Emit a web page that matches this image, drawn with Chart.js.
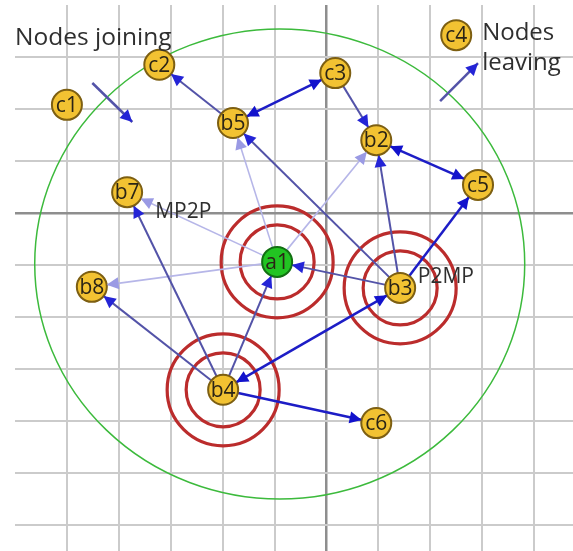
<!DOCTYPE html>
<html>
<head>
<meta charset="utf-8">
<script src="https://cdn.jsdelivr.net/npm/chart.js@4/dist/chart.umd.min.js"></script>
<style>
  html, body { margin: 0; padding: 0; background: #fff; }
  #wrap { width: 573px; height: 551px; position: relative; }
</style>
</head>
<body>
<div id="wrap"><canvas id="canvas"></canvas></div>
<script>
// nodes (grid units, origin at the dark axis cross)
const nodeNames = ['c1', 'c2', 'c3', 'c4', 'b5', 'b2', 'c5', 'b7', 'b8', 'a1', 'b3', 'b4', 'c6'];
const nodeX = [-5.0, -3.22, 0.17, 2.50, -1.80, 0.96, 2.92, -3.84, -4.52, -0.95, 1.42, -1.99, 0.96];
const nodeY = [2.08, 2.85, 2.69, 3.42, 1.73, 1.40, 0.54, 0.40, -1.42, -0.94, -1.44, -3.40, -4.04];

// links between nodes
const linkFrom = ['b5', 'c3', 'c3', 'b2', 'b3', 'b3', 'b3', 'b3', 'b4', 'b4', 'b4', 'b4', 'b4', 'a1', 'a1', 'a1', 'a1'];
const linkTo   = ['c2', 'b5', 'b2', 'c5', 'b5', 'b2', 'c5', 'a1', 'b3', 'a1', 'b7', 'b8', 'c6', 'b7', 'b8', 'b5', 'b2'];
const linkKind = ['mid', 'dark', 'mid', 'dark', 'mid', 'mid', 'dark', 'mid', 'dark', 'mid', 'mid', 'mid', 'dark', 'light', 'light', 'light', 'light'];
const linkBoth = [false, true, false, true, false, false, false, false, true, false, false, false, false, false, false, false, false];

// joining / leaving arrows
const freeStartX = [-4.51, 2.19];
const freeStartY = [2.50, 2.15];
const freeEndX = [-3.74, 2.92];
const freeEndY = [1.75, 2.88];

// nodes with red rings
const ringNodes = ['a1', 'b3', 'b4'];

// green coverage circle
const areaCenter = [-0.90, -0.98];
const areaRadius = [4.72, 4.52];

// text labels
const noteText = ['Nodes joining', 'MP2P', 'P2MP', 'Nodes', 'leaving'];
const noteX = [-6.0, -3.30, 1.76, 3.0, 3.0];
const noteY = [3.37, 0.02, -1.23, 3.46, 2.88];
const noteSize = [24.5, 21, 21, 24, 24];

const colors = {
  mid: { line: '#5353a8', head: '#2424d6', width: 2 },
  dark: { line: '#1d1dc6', head: '#1212cc', width: 2.5 },
  light: { line: '#b6b6e8', head: '#9a9ae4', width: 1.6 }
};

const idx = n => nodeNames.indexOf(n);
const pt = n => ({ x: nodeX[idx(n)], y: nodeY[idx(n)] });

const linkSets = linkFrom.map((f, i) => ({
  data: [pt(f), pt(linkTo[i])],
  showLine: true,
  pointRadius: 0,
  borderColor: colors[linkKind[i]].line,
  borderWidth: colors[linkKind[i]].width,
  order: 1
}));
const freeSets = freeStartX.map((x, i) => ({
  data: [{ x: x, y: freeStartY[i] }, { x: freeEndX[i], y: freeEndY[i] }],
  showLine: true,
  pointRadius: 0,
  borderColor: colors.mid.line,
  borderWidth: 2.5,
  order: 1
}));

function head(ctx, tx, ty, dx, dy, color) {
  const len = 12, hw = 6;
  const bx = tx - dx * len, by = ty - dy * len;
  ctx.fillStyle = color;
  ctx.beginPath();
  ctx.moveTo(tx, ty);
  ctx.lineTo(bx - dy * hw, by + dx * hw);
  ctx.lineTo(bx + dy * hw, by - dx * hw);
  ctx.closePath();
  ctx.fill();
}

const diagram = {
  id: 'diagram',
  beforeDatasetsDraw(chart) {
    const { ctx, scales: { x, y } } = chart;
    const cx = x.getPixelForValue(areaCenter[0]);
    const cy = y.getPixelForValue(areaCenter[1]);
    const rx = x.getPixelForValue(areaCenter[0] + areaRadius[0]) - cx;
    const ry = cy - y.getPixelForValue(areaCenter[1] + areaRadius[1]);
    ctx.save();
    ctx.strokeStyle = '#3cba3c';
    ctx.lineWidth = 1.5;
    ctx.beginPath();
    ctx.ellipse(cx, cy, rx, ry, 0, 0, Math.PI * 2);
    ctx.stroke();
    ctx.restore();
  },
  afterDatasetsDraw(chart) {
    const { ctx, scales: { x, y } } = chart;
    ctx.save();
    const px = p => [x.getPixelForValue(p.x), y.getPixelForValue(p.y)];
    linkFrom.forEach((f, i) => {
      const [x0, y0] = px(pt(f));
      const [x1, y1] = px(pt(linkTo[i]));
      const d = Math.hypot(x1 - x0, y1 - y0);
      const dx = (x1 - x0) / d, dy = (y1 - y0) / d;
      const c = colors[linkKind[i]].head;
      head(ctx, x1 - dx * 15, y1 - dy * 15, dx, dy, c);
      if (linkBoth[i]) head(ctx, x0 + dx * 15, y0 + dy * 15, -dx, -dy, c);
    });
    freeStartX.forEach((sx, i) => {
      const [x0, y0] = px({ x: sx, y: freeStartY[i] });
      const [x1, y1] = px({ x: freeEndX[i], y: freeEndY[i] });
      const d = Math.hypot(x1 - x0, y1 - y0);
      head(ctx, x1, y1, (x1 - x0) / d, (y1 - y0) / d, colors.mid.head);
    });
    // node labels
    ctx.fillStyle = '#2b2416';
    ctx.font = '21px "Open Sans"';
    ctx.textAlign = 'center';
    ctx.textBaseline = 'middle';
    nodeNames.forEach((n, i) => {
      ctx.fillText(n, x.getPixelForValue(nodeX[i]), y.getPixelForValue(nodeY[i]) + 1);
    });
    // notes
    ctx.fillStyle = '#2f2f2f';
    ctx.textAlign = 'left';
    noteText.forEach((t, i) => {
      ctx.font = noteSize[i] + 'px "Open Sans"';
      ctx.fillText(t, x.getPixelForValue(noteX[i]), y.getPixelForValue(noteY[i]));
    });
    ctx.restore();
  }
};

const gridColor = edge => c => {
  const v = c.tick.value;
  if (v === 0) return '#8e8e8e';
  if (v === edge) return 'rgba(0,0,0,0)';
  return '#cbcbcb';
};

new Chart(document.getElementById('canvas'), {
  type: 'scatter',
  data: {
    datasets: [
      {
        data: nodeNames.map(n => pt(n)),
        pointRadius: 15,
        pointHoverRadius: 15,
        backgroundColor: nodeNames.map(n => n === 'a1' ? '#22c422' : '#f2c232'),
        borderColor: nodeNames.map(n => n === 'a1' ? '#127012' : '#7d5f12'),
        borderWidth: 2,
        order: 0
      },
      ...linkSets,
      ...freeSets,
      {
        data: ringNodes.map(n => pt(n)),
        pointRadius: 56,
        backgroundColor: 'rgba(0,0,0,0)',
        borderColor: '#bb2c2c',
        borderWidth: 3.2,
        order: 2
      },
      {
        data: ringNodes.map(n => pt(n)),
        pointRadius: 37,
        backgroundColor: 'rgba(0,0,0,0)',
        borderColor: '#bb2c2c',
        borderWidth: 3.2,
        order: 2
      }
    ]
  },
  options: {
    responsive: true,
    maintainAspectRatio: false,
    animation: false,
    layout: { autoPadding: false, padding: { left: 15, top: 5, right: 0, bottom: 0 } },
    plugins: { legend: { display: false }, tooltip: { enabled: false } },
    scales: {
      x: {
        min: -6, max: 4.75,
        border: { display: false },
        ticks: { display: false, stepSize: 1, includeBounds: false },
        grid: { color: gridColor(-6), lineWidth: c => c.tick.value === 0 ? 2.5 : 2, drawTicks: false }
      },
      y: {
        min: -6.5, max: 4,
        border: { display: false },
        ticks: { display: false, stepSize: 1, includeBounds: false },
        grid: { color: gridColor(4), lineWidth: c => c.tick.value === 0 ? 2.5 : 2, drawTicks: false }
      }
    }
  },
  plugins: [diagram]
});
</script>
</body>
</html>
